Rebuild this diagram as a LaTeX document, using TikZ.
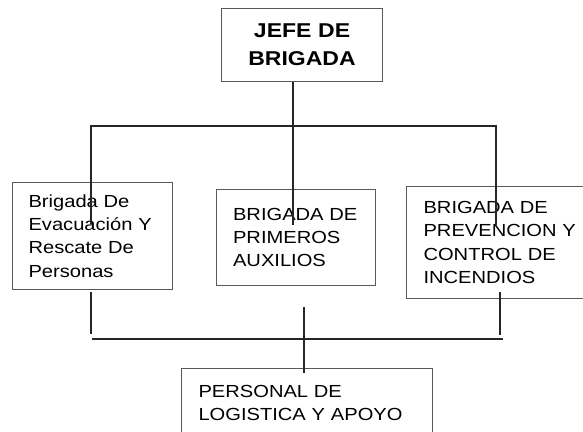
\documentclass[tikz,border=0pt]{standalone}
\usepackage{fontspec}
\setmainfont{Liberation Sans}[FakeStretch=1.15]
\usetikzlibrary{positioning,calc}

\begin{document}
\begin{tikzpicture}[x=1pt,y=-1pt,
  caja/.style={rectangle,draw=black!65,line width=1.1pt,inner ysep=0pt,align=left,anchor=north west,font=\fontsize{17.5}{23.3}\selectfont},
  jefecaja/.style={caja,align=center,font=\fontsize{20}{28}\selectfont\bfseries},
  linea/.style={line width=1.3pt,black!85}
]
  \useasboundingbox (0,0) rectangle (583,431);

  \node[jefecaja,minimum width=161pt,minimum height=73pt,text width=127pt,inner xsep=17pt] (jefe) at (221,8) {JEFE DE\\BRIGADA};
  \node[caja,minimum width=160pt,minimum height=107pt,text width=128pt,inner xsep=16pt] (evac) at (12,182) {Brigada De\\Evacuación Y\\Rescate De\\Personas};
  \node[caja,minimum width=159pt,minimum height=96pt,text width=126pt,inner xsep=16.5pt] (aux) at (216,189) {BRIGADA DE\\PRIMEROS\\AUXILIOS};
  \node[caja,minimum width=194pt,minimum height=112pt,text width=160pt,inner xsep=17pt] (inc) at (406,186) {BRIGADA DE\\PREVENCION Y\\CONTROL DE\\INCENDIOS};
  \node[caja,minimum width=251pt,minimum height=69pt,text width=217pt,inner xsep=17pt] (log) at (181,368) {PERSONAL DE\\LOGISTICA Y APOYO};

  % barra superior
  \coordinate (bus) at (0,126);
  \coordinate (evac in) at (91,224);
  \coordinate (aux in) at (293,225);
  \coordinate (inc in) at (496,225);
  \draw[linea] (evac in) -- (evac in |- bus) -- (inc in |- bus) -- (inc in);
  \draw[linea] (jefe.south -| aux in) -- (aux in);

  % barra inferior
  \coordinate (lowbus) at (0,339);
  \coordinate (evac out) at (91,292);
  \coordinate (inc out) at (500,292);
  \coordinate (log in) at (304,307);
  \draw[linea] (evac out) -- ($(evac out |- lowbus)+(0,-5)$);
  \draw[linea] (inc out) -- ($(inc out |- lowbus)+(0,-4)$);
  \draw[linea] ($(evac out |- lowbus)+(1,0)$) -- ($(inc out |- lowbus)+(3,0)$);
  \draw[linea] (log in) -- ($(log.north -| log in)+(0,5)$);
\end{tikzpicture}
\end{document}
